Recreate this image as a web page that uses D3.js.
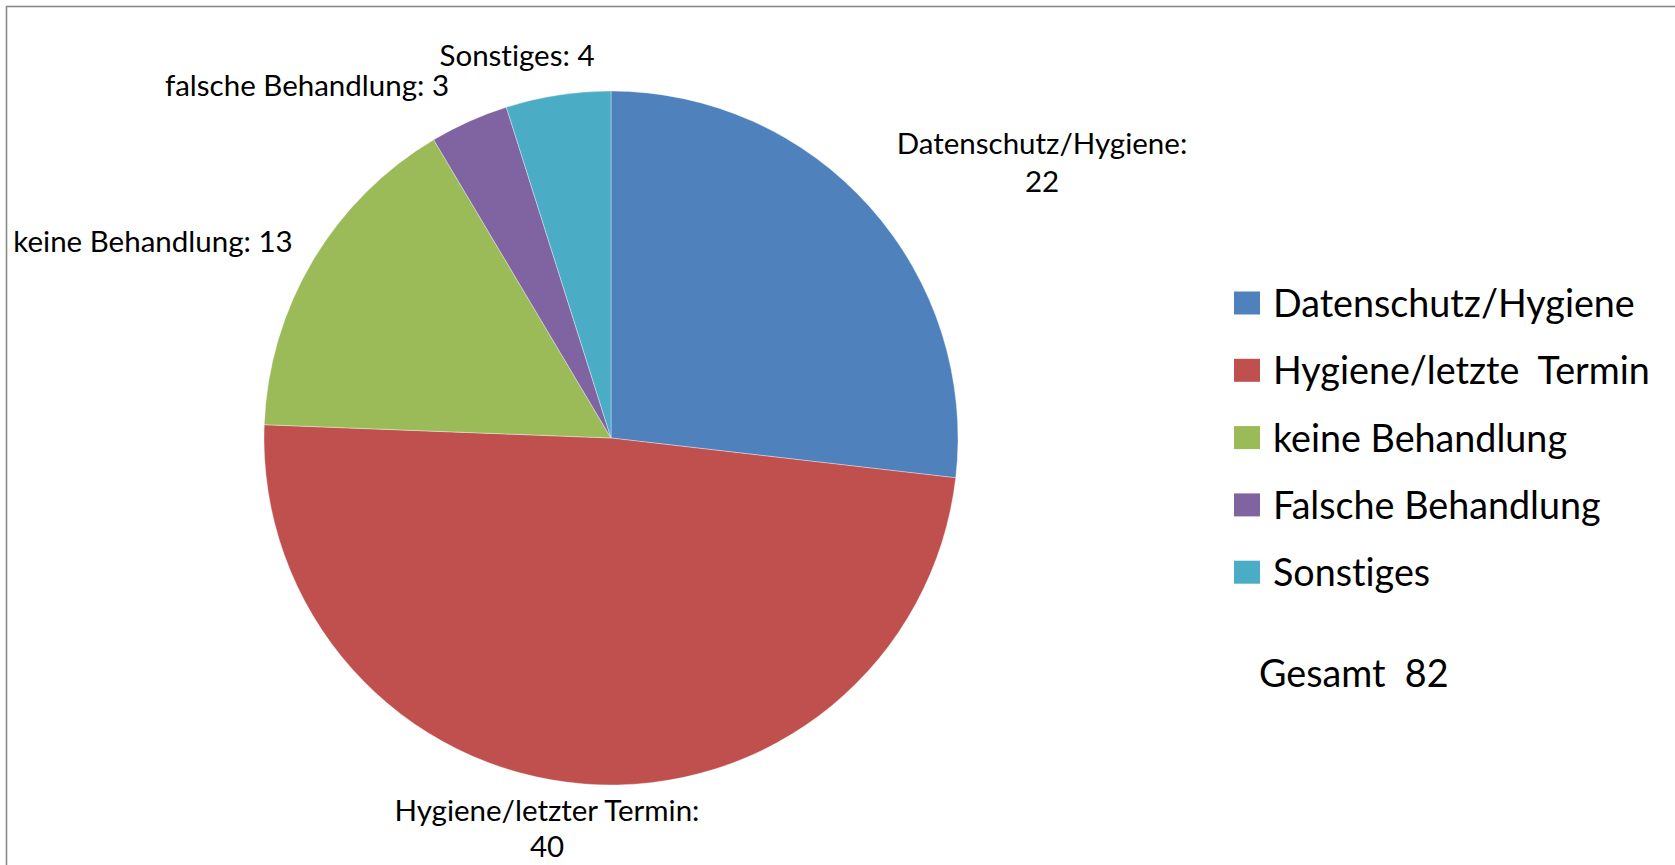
<!DOCTYPE html>
<html>
<head>
<meta charset="utf-8">
<script src="https://cdn.jsdelivr.net/npm/d3@7"></script>
<style>
  html, body { margin: 0; padding: 0; background: #fff; }
  svg { display: block; }
  text { font-family: Lato, "Open Sans", sans-serif; fill: #000; font-variant-ligatures: none; font-feature-settings: "liga" 0, "clig" 0; }
</style>
</head>
<body>
<svg id="chart" width="1675" height="865"></svg>
<script>
// Beschwerdegründe (Anzahl)
const categories = ["Datenschutz/Hygiene", "Hygiene/letzte Termin", "keine Behandlung", "Falsche Behandlung", "Sonstiges"];
const values = [22, 40, 13, 3, 4];
const sliceLabels = [
  ["Datenschutz/Hygiene:", "22"],
  ["Hygiene/letzter Termin:", "40"],
  ["keine Behandlung: 13"],
  ["falsche Behandlung: 3"],
  ["Sonstiges: 4"]
];
const colors = ["#4F81BD", "#C0504D", "#9BBB59", "#8064A2", "#4BACC6"];
const totalLabel = "Gesamt  82";

const svg = d3.select("#chart");
const W = 1675, H = 865;

// chart area frame (runs off the right and bottom edges)
svg.append("rect")
  .attr("x", 6.5).attr("y", 6.5)
  .attr("width", W + 20).attr("height", H + 20)
  .attr("fill", "#fff")
  .attr("stroke", "#8a8a8a")
  .attr("stroke-width", 1.6);

const cx = 611, cy = 438, radius = 347;

const pie = d3.pie().sort(null).value(d => d.value)
  .startAngle(0).endAngle(2 * Math.PI);
const arc = d3.arc().innerRadius(0).outerRadius(radius);

const data = categories.map((c, i) => ({ name: c, value: values[i], color: colors[i], label: sliceLabels[i] }));
const arcs = pie(data);

const g = svg.append("g").attr("transform", `translate(${cx},${cy})`);

g.selectAll("path.slice")
  .data(arcs)
  .enter().append("path")
  .attr("class", "slice")
  .attr("d", arc)
  .attr("fill", d => d.data.color)
  .attr("stroke", "#ffffff")
  .attr("stroke-opacity", 0.6)
  .attr("stroke-width", 0.6);

// data label placement relative to the pie centre
const labelPlacement = [
  { dx: 431, dy: -284, gap: 38 },
  { dx: -64, dy: 383, gap: 36 },
  { dx: -458, dy: -186, gap: 0 },
  { dx: -304, dy: -342, gap: 0 },
  { dx: -94, dy: -372, gap: 0 }
];
const labelSize = 29.5;

g.selectAll("text.dlabel")
  .data(arcs)
  .enter().append("text")
  .attr("class", "dlabel")
  .attr("text-anchor", "middle")
  .attr("font-size", labelSize)
  .attr("x", (d, i) => labelPlacement[i].dx)
  .attr("y", (d, i) => labelPlacement[i].dy)
  .each(function(d, i) {
    const t = d3.select(this);
    d.data.label.forEach((line, j) => {
      t.append("tspan")
        .attr("x", labelPlacement[i].dx)
        .attr("dy", j === 0 ? 0 : labelPlacement[i].gap)
        .text(line);
    });
  });

// legend
const legendX = 1234, legendY0 = 304, legendStep = 67.3, sw = 25;
const legendSize = 37.7;
const legend = svg.append("g");
const items = legend.selectAll("g.item")
  .data(data)
  .enter().append("g")
  .attr("class", "item")
  .attr("transform", (d, i) => `translate(${legendX},${legendY0 + i * legendStep})`);

items.append("rect")
  .attr("x", 0).attr("y", -sw / 2)
  .attr("width", sw + 1).attr("height", sw - 2)
  .attr("fill", d => d.color);

items.append("text")
  .attr("x", 39).attr("y", 13)
  .attr("font-size", legendSize)
  .style("white-space", "pre")
  .text(d => d.name === "Hygiene/letzte Termin" ? "Hygiene/letzte  Termin" : d.name);

svg.append("text")
  .attr("x", 1259).attr("y", 687)
  .attr("font-size", legendSize)
  .style("white-space", "pre")
  .text(totalLabel);
</script>
</body>
</html>
